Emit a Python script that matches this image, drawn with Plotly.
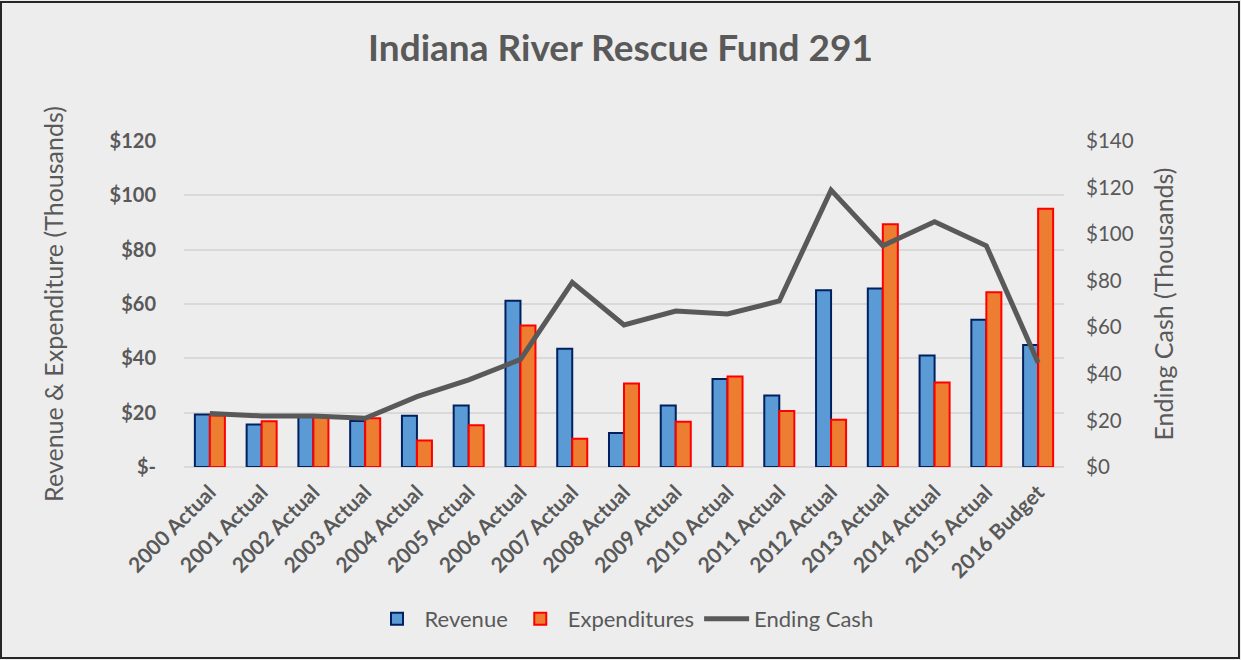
import plotly.graph_objects as go

categories = ["2000 Actual", "2001 Actual", "2002 Actual", "2003 Actual", "2004 Actual",
              "2005 Actual", "2006 Actual", "2007 Actual", "2008 Actual", "2009 Actual",
              "2010 Actual", "2011 Actual", "2012 Actual", "2013 Actual", "2014 Actual",
              "2015 Actual", "2016 Budget"]
revenue = [19.3, 15.6, 18.4, 16.9, 18.9, 22.6, 61.2, 43.5, 12.5, 22.6, 32.4, 26.3, 65.1, 65.7, 41.0, 54.2, 44.9]
expenditures = [19.0, 16.8, 18.4, 17.9, 9.8, 15.4, 52.1, 10.4, 30.7, 16.7, 33.3, 20.6, 17.4, 89.4, 31.1, 64.3, 95.1]
ending_cash = [23.0, 21.9, 21.9, 20.9, 30.2, 37.4, 46.2, 79.3, 61.0, 67.0, 65.7, 71.3, 118.9, 95.0, 105.3, 95.0, 44.8]

left_tickvals = [0, 20, 40, 60, 80, 100, 120]
left_ticktext = ["$-", "$20", "$40", "$60", "$80", "$100", "$120"]
right_tickvals = [0, 20, 40, 60, 80, 100, 120, 140]
right_ticktext = ["$0", "$20", "$40", "$60", "$80", "$100", "$120", "$140"]

FONT = "Lato, 'Open Sans', sans-serif"
GREY = "#595959"

fig = go.Figure()
fig.add_trace(go.Bar(x=categories, y=revenue, name="Revenue",
                     marker=dict(color="#5B9BD5", line=dict(color="#002060", width=2))))
fig.add_trace(go.Bar(x=categories, y=expenditures, name="Expenditures",
                     marker=dict(color="#ED7D31", line=dict(color="#FF0000", width=2))))
fig.add_trace(go.Scatter(x=categories, y=ending_cash, name="Ending Cash", yaxis="y2",
                         mode="lines", line=dict(color=GREY, width=5), cliponaxis=False))

W, H = 1241, 660
ml, mr, mt, mb = 184, 177, 141, 193
pw, ph = W - ml - mr, H - mt - mb

fig.update_layout(
    width=W, height=H,
    margin=dict(l=ml, r=mr, t=mt, b=mb),
    paper_bgcolor="#EDEDED", plot_bgcolor="#EDEDED",
    barmode="group", bargap=0.42, bargroupgap=0,
    font=dict(family=FONT, color=GREY),
    title=dict(text="<b>Indiana River Rescue Fund 291</b>", x=0.5, xanchor="center",
               y=1 - 48 / H, yanchor="middle",
               font=dict(size=37, color=GREY, family=FONT)),
    xaxis=dict(tickangle=-45, tickfont=dict(size=21, color=GREY, family=FONT, weight="bold"),
               showgrid=False, showline=False, ticks="", ticklabelstandoff=8),
    yaxis=dict(range=[0, 120], tickvals=left_tickvals, ticktext=left_ticktext,
               tickfont=dict(size=20, color=GREY, family=FONT, weight="bold"),
               gridcolor="#D9D9D9", gridwidth=2, zeroline=True, zerolinecolor="#D9D9D9",
               zerolinewidth=2, ticks="", ticklabelstandoff=27,
               title=dict(text="Revenue & Expenditure (Thousands)",
                          font=dict(size=25, color=GREY, family=FONT), standoff=38)),
    yaxis2=dict(range=[0, 140], tickvals=right_tickvals, ticktext=right_ticktext,
                overlaying="y", side="right", showgrid=False, zeroline=False,
                tickfont=dict(size=20.5, color=GREY, family=FONT), ticks="",
                ticklabelstandoff=21,
                title=dict(text="Ending Cash (Thousands)",
                           font=dict(size=25, color=GREY, family=FONT), standoff=22)),
    legend=dict(orientation="h", x=0.5, xanchor="center", y=-(619 - mt - ph) / ph,
                yanchor="middle", font=dict(size=22, color=GREY, family=FONT),
                traceorder="normal", bgcolor="rgba(0,0,0,0)", itemwidth=45),
    shapes=[dict(type="rect", xref="paper", yref="paper",
                 x0=-(ml - 1) / pw, x1=1 + (mr - 2) / pw,
                 y0=-(mb - 2) / ph, y1=1 + (mt - 2) / ph,
                 line=dict(color="#262626", width=2), layer="below")],
)

fig.write_html("out.html", config={"displayModeBar": False},
               post_script="document.body.style.margin='0';document.body.style.overflow='hidden';")
